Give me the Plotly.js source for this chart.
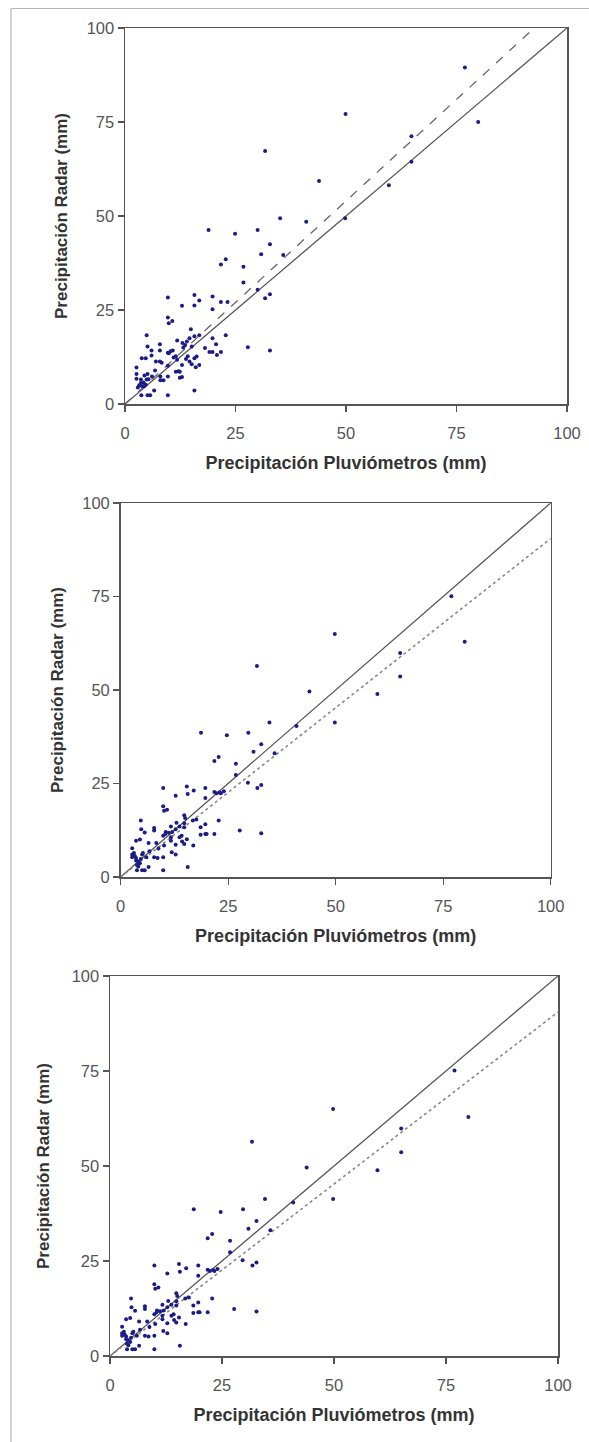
<!DOCTYPE html>
<html>
<head>
<meta charset="utf-8">
<script src="https://cdn.plot.ly/plotly-3.0.1.min.js"></script>
<style>
html,body{margin:0;padding:0;background:#fff;}
#chart{width:589px;height:1442px;}
</style>
</head>
<body>
<div id="chart"></div>
<script>
// ---------- DATA ----------
// Panel 1: rain gauge (x) vs radar (y)
const gauge1 = [76.9,79.9,49.9,31.7,43.9,59.7,64.8,64.8,49.8,35.1,41.0,18.9,30.0,24.9,32.8,30.8,35.8,22.8,21.7,26.8,
  26.8,30.0,32.8,31.7,15.7,19.8,9.7,16.8,21.7,23.2,15.7,12.9,19.8,9.7,10.7,9.9,4.9,22.8,16.8,15.7,
  14.6,19.8,11.8,7.9,5.1,18.1,27.8,32.8,21.7,19.1,19.8,7.9,6.0,13.2,13.6,15.1,10.8,9.7,3.8,4.7,
  11.5,11.8,14.2,15.7,14.6,7.0,7.9,16.8,15.1,9.7,12.9,12.1,12.9,2.6,6.8,2.6,5.1,6.1,8.0,9.7,
  2.6,3.6,4.9,8.0,8.7,3.6,4.7,3.9,4.3,6.6,15.7,3.7,5.1,5.7,9.7,14.9,20.6,13.8,16.0,11.5,
  12.4,12.4,9.9,4.2,2.9,5.3,10.3,6.0,11.0,13.0,14.0,16.2,3.2,4.4,8.3,20.8];
const radar1 = [89.5,75.0,77.1,67.3,59.3,58.2,71.2,64.4,49.4,49.4,48.5,46.3,46.3,45.3,42.5,39.8,39.6,38.5,37.1,36.5,
  32.3,30.4,29.2,28.1,29.0,28.6,28.3,27.5,27.1,27.1,26.2,26.1,25.2,23.0,22.1,21.5,18.3,18.3,18.3,18.0,
  17.5,17.5,16.9,15.9,15.3,14.9,15.1,14.2,13.8,13.8,13.8,14.2,14.2,15.0,15.7,15.3,14.2,13.6,12.2,12.2,
  12.7,11.8,12.7,12.2,11.3,11.3,11.3,10.4,10.6,10.2,10.4,8.7,7.2,9.7,8.9,8.0,8.0,7.3,7.3,7.3,
  6.7,6.5,6.5,6.3,6.3,5.6,5.1,4.7,4.7,3.6,3.6,2.3,2.3,2.3,2.3,19.9,15.9,12.0,9.8,8.6,
  8.6,7.0,13.5,5.7,4.4,6.6,14.0,12.9,12.4,16.2,16.6,12.6,5.0,7.6,11.0,13.0];

// Panels 2 and 3: rain gauge (x) vs corrected radar (y)
const gauge2 = [76.9,80.0,49.8,31.7,43.9,59.7,65.0,65.0,49.8,34.6,40.9,18.7,29.7,24.7,32.7,30.9,35.8,22.8,21.8,26.8,
  26.8,29.6,32.7,31.8,15.4,19.7,9.9,17.0,21.8,23.3,15.6,12.8,19.7,9.9,10.8,10.1,4.7,22.8,14.8,16.8,
  14.8,19.7,11.7,7.8,4.8,18.6,27.7,32.7,21.8,18.6,19.7,7.8,5.6,12.8,13.7,14.8,10.4,9.9,3.6,4.5,
  11.7,11.7,13.7,15.4,14.3,6.5,8.3,16.9,14.8,10.1,12.8,11.9,12.8,2.7,6.7,2.7,5.0,6.0,7.8,9.9,
  2.7,3.6,4.7,8.6,3.6,4.5,3.8,4.1,6.5,15.6,3.8,5.0,5.6,9.9,22.3,23.0,24.0,13.0,15.0,10.5,
  3.1,4.0,5.2,12.0,17.6,20.0,8.8,11.2,14.2,3.3];
const radar2 = [75.1,62.9,65.0,56.4,49.6,48.9,59.9,53.6,41.3,41.3,40.4,38.6,38.6,37.9,35.5,33.5,33.1,32.1,31.0,30.3,
  27.3,25.2,24.6,23.8,24.2,23.8,23.8,23.1,22.7,22.4,22.2,21.7,21.1,18.9,18.0,17.7,15.1,15.1,16.5,15.1,
  14.4,14.1,13.5,13.1,12.8,13.3,12.4,11.7,11.5,11.3,11.5,12.4,11.9,12.8,13.5,13.3,11.5,11.0,9.7,10.0,
  10.6,9.7,10.6,10.1,9.5,9.1,9.1,8.4,8.8,8.4,8.6,6.6,6.0,7.7,6.9,6.0,6.0,5.3,5.3,5.3,
  5.3,5.1,4.8,5.1,4.4,3.7,3.3,2.8,2.7,2.7,1.8,1.8,1.8,1.8,22.4,22.6,22.9,14.5,15.8,12.0,
  6.4,4.2,6.4,12.0,15.4,11.5,7.6,11.8,11.0,5.6];

// Reference lines: 1:1 line and fitted lines (through origin)
const lineX = [0, 100];
const identitySlope = 1.0;
const fitSlope1 = 1.08;
const fitSlope2 = 0.905;

const tickVals = [0, 25, 50, 75, 100];
const xTitle = 'Precipitación Pluviómetros (mm)';
const yTitle = 'Precipitación Radar (mm)';

// ---------- FIGURE ----------
const W = 589, H = 1442;
const px = v => v / W;
const py = v => (H - v) / H;

const panels = [
  {x0:125, x1:567, yTop:28, yBot:404, gx:gauge1, ry:radar1, slope:fitSlope1, dash:'dash', ycol:'#666', ylw:1.3, ys:14},
  {x0:120.6, x1:550.7, yTop:503, yBot:877, gx:gauge2, ry:radar2, slope:fitSlope2, dash:'dot', ycol:'#888', ylw:1.6, ys:14},
  {x0:110, x1:558, yTop:976, yBot:1356, gx:gauge2, ry:radar2, slope:fitSlope2, dash:'dot', ycol:'#888', ylw:1.6, ys:17}
];

const traces = [];
const layout = {
  width: W, height: H,
  margin: {l:0, r:0, t:0, b:0},
  paper_bgcolor: '#fff', plot_bgcolor: '#fff',
  showlegend: false,
  font: {family: 'Liberation Sans, Arial, sans-serif', color: '#444'},
  shapes: [
    {type:'line', xref:'paper', yref:'paper', x0:px(11), x1:px(589), y0:py(8.5), y1:py(8.5), line:{color:'#b5b5b5', width:1.2}},
    {type:'line', xref:'paper', yref:'paper', x0:px(11), x1:px(11), y0:py(8.5), y1:0, line:{color:'#b5b5b5', width:1.2}}
  ]
};

panels.forEach((p, i) => {
  const n = i === 0 ? '' : String(i + 1);
  const xa = 'x' + n, ya = 'y' + n;
  traces.push({
    x: lineX, y: lineX.map(v => v * identitySlope), xaxis: xa, yaxis: ya,
    mode: 'lines', line: {color: '#555', width: 1.3}, hoverinfo: 'skip'
  });
  traces.push({
    x: lineX, y: lineX.map(v => v * p.slope), xaxis: xa, yaxis: ya,
    mode: 'lines', line: {color: p.ycol, width: p.ylw, dash: p.dash}, hoverinfo: 'skip'
  });
  traces.push({
    x: p.gx, y: p.ry, xaxis: xa, yaxis: ya, mode: 'markers',
    marker: {color: '#1c1c86', size: 4}
  });
  const common = {
    range: [0, 100], tickvals: tickVals, ticktext: tickVals.map(String),
    showline: true, linecolor: '#555', linewidth: 1.5, mirror: true,
    ticks: 'outside', ticklen: 6, tickcolor: '#555', tickwidth: 1.2,
    showgrid: false, zeroline: false, fixedrange: true,
    tickfont: {family: 'Liberation Sans, Arial, sans-serif', size: 16.5, color: '#555'}
  };
  layout['xaxis' + n] = Object.assign({}, common, {
    domain: [px(p.x0), px(p.x1)], anchor: ya,
    ticklabelstandoff: 8,
    title: {text: xTitle, standoff: 15,
      font: {family: 'Liberation Sans, Arial, sans-serif', size: 18, color: '#333', weight: 'bold'}}
  });
  layout['yaxis' + n] = Object.assign({}, common, {
    domain: [py(p.yBot), py(p.yTop)], anchor: xa,
    title: {text: yTitle, standoff: p.ys,
      font: {family: 'Liberation Sans, Arial, sans-serif', size: 17, color: '#333', weight: 'bold'}}
  });
});

Plotly.newPlot('chart', traces, layout, {displayModeBar: false, staticPlot: true});
</script>
</body>
</html>
